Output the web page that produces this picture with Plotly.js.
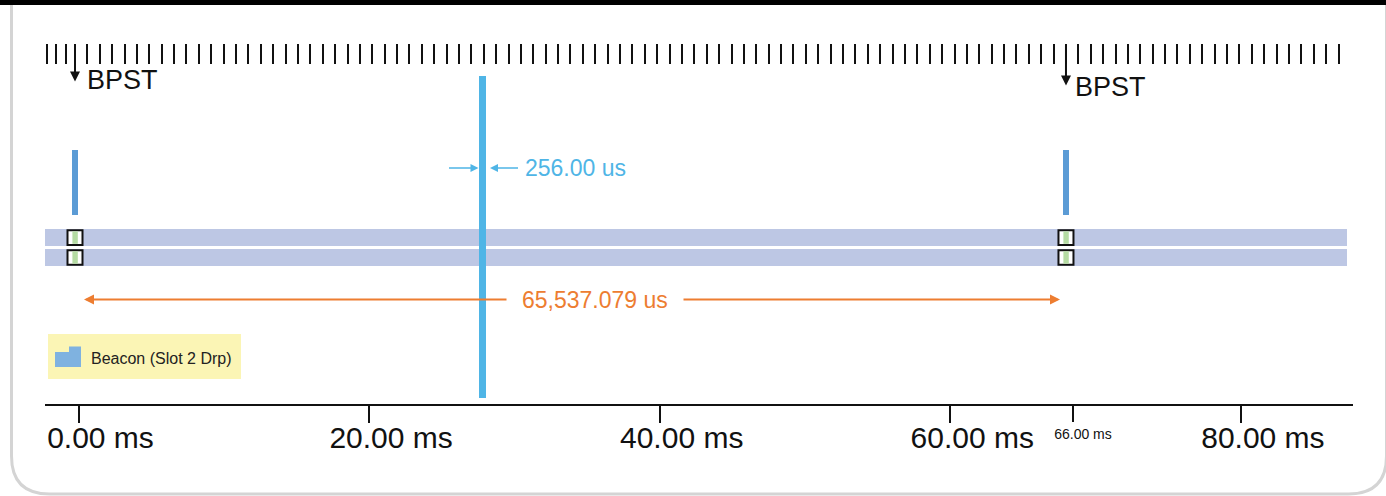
<!DOCTYPE html>
<html>
<head>
<meta charset="utf-8">
<script src="https://cdn.plot.ly/plotly-3.0.1.min.js"></script>
<style>
  html, body { margin: 0; padding: 0; background: #ffffff; }
  #chart { width: 1386px; height: 496px; }
</style>
</head>
<body>
<div id="chart"></div>
<script>
// ---------------- data ----------------
const bpstTimesMs = [0, 65.537];              // beacon period start times (ms)
const bpstLabels = ['BPST', 'BPST'];
const beaconName = 'Beacon (Slot 2 Drp)';
const guardTimesMs = [26.95];                 // guard marker position (ms)
const guardWidthUs = 256.00;                  // guard width (us)
const beaconPeriodUs = 65537.079;             // beacon period (us)
const slotsPerPeriod = 80;                    // ruler divisions between BPSTs
const axisTickValsMs = [0, 20, 40, 60, 80];
const axisTickText = ['0.00 ms', '20.00 ms', '40.00 ms', '60.00 ms', '80.00 ms'];
const markTickValsMs = [66];
const markTickText = ['66.00 ms'];

// ---------------- helpers ----------------
const W = 1386, H = 496;
const X = px => px / W;           // pixel -> paper x
const Y = py => 1 - py / H;       // pixel -> paper y
const FONT = 'Liberation Sans, Arial, sans-serif';

function fmtUs(v, d) {
  const s = v.toFixed(d);
  const parts = s.split('.');
  parts[0] = parts[0].replace(/\B(?=(\d{3})+(?!\d))/g, ',');
  return parts.join('.') + ' us';
}

const C_BEACON = '#5b9bd5';
const C_GUARD = '#4fb5e6';
const C_ORANGE = '#ed7d31';
const C_ROW = '#bdc7e4';
const C_GREEN = '#b5dba3';

// ruler ticks (schematic axis)
const rulerStep = (bpstTimesMs[1] - bpstTimesMs[0]) / slotsPerPeriod;
const rulerTicks = [];
const leadStep = rulerStep * 0.76;
for (let k = 3; k >= 1; k--) rulerTicks.push(bpstTimesMs[0] - k * leadStep);
for (let k = 0; k <= 102; k++) rulerTicks.push(bpstTimesMs[0] + k * rulerStep);

const midPeriod = (bpstTimesMs[0] + bpstTimesMs[1]) / 2;

// ---------------- traces ----------------
const traces = [
  { // beacons
    type: 'bar', xaxis: 'x2', yaxis: 'y',
    x: bpstTimesMs, y: bpstTimesMs.map(() => -65), base: bpstTimesMs.map(() => 215),
    width: bpstTimesMs.map(() => 0.46),
    marker: { color: C_BEACON, line: { width: 0 } },
    name: beaconName, showlegend: false, hoverinfo: 'skip'
  },
  { // guard bar
    type: 'bar', xaxis: 'x2', yaxis: 'y',
    x: guardTimesMs, y: guardTimesMs.map(() => -322), base: guardTimesMs.map(() => 398),
    width: guardTimesMs.map(() => 0.46),
    marker: { color: C_GUARD, line: { width: 0 } },
    showlegend: false, hoverinfo: 'skip'
  },
  { // anchor trace for the main time axis
    type: 'scatter', mode: 'markers', xaxis: 'x', yaxis: 'y',
    x: [axisTickValsMs[0]], y: [-100],
    marker: { size: 1, color: 'rgba(0,0,0,0)' }, showlegend: false, hoverinfo: 'skip'
  },
  { // anchor trace for the ruler axis
    type: 'scatter', mode: 'markers', xaxis: 'x3', yaxis: 'y',
    x: [bpstTimesMs[0]], y: [-100],
    marker: { size: 1, color: 'rgba(0,0,0,0)' }, showlegend: false, hoverinfo: 'skip'
  }
];

// ---------------- shapes ----------------
const frameR = 38, fx0 = 11.5, fx1 = 1386.5, fy1 = 494;
const framePath =
  `M ${X(fx0)},${Y(-20)} L ${X(fx0)},${Y(fy1 - frameR)} ` +
  `Q ${X(fx0)},${Y(fy1)} ${X(fx0 + frameR)},${Y(fy1)} ` +
  `L ${X(fx1 - frameR)},${Y(fy1)} Q ${X(fx1)},${Y(fy1)} ${X(fx1)},${Y(fy1 - frameR)} ` +
  `L ${X(fx1)},${Y(-20)}`;

const shapes = [
  { type: 'path', xref: 'paper', yref: 'paper', path: framePath,
    line: { color: '#d4d4d4', width: 3 }, layer: 'below' },
  { type: 'rect', xref: 'paper', yref: 'paper', x0: 0, x1: 1, y0: Y(5), y1: Y(-5),
    fillcolor: '#000000', line: { width: 0 }, layer: 'below' },
  { type: 'rect', xref: 'paper', yref: 'paper', x0: X(45), x1: X(1347), y0: Y(246), y1: Y(229),
    fillcolor: C_ROW, line: { width: 0 }, layer: 'below' },
  { type: 'rect', xref: 'paper', yref: 'paper', x0: X(45), x1: X(1347), y0: Y(266), y1: Y(249),
    fillcolor: C_ROW, line: { width: 0 }, layer: 'below' },
  // legend box
  { type: 'rect', xref: 'paper', yref: 'paper', x0: X(48), x1: X(241), y0: Y(379), y1: Y(334),
    fillcolor: '#fbf5b5', line: { width: 0 }, layer: 'below' },
  { type: 'path', xref: 'paper', yref: 'paper',
    path: `M ${X(55)},${Y(367)} L ${X(55)},${Y(352)} L ${X(69)},${Y(352)} L ${X(69)},${Y(346.5)} L ${X(81)},${Y(346.5)} L ${X(81)},${Y(367)} Z`,
    fillcolor: '#7fb2e0', line: { width: 0 }, layer: 'above' }
];

// slot boxes on both rows at each BPST
const rowCenters = [237.6, 257.5];
bpstTimesMs.forEach(t => {
  rowCenters.forEach(yc => {
    shapes.push({
      type: 'rect', xref: 'x2', yref: 'y', xsizemode: 'pixel', xanchor: t,
      x0: -7.5, x1: 7.5, y0: yc - 7.3, y1: yc + 7.3,
      fillcolor: '#ffffff', line: { color: '#111111', width: 2 }, layer: 'above'
    });
    shapes.push({
      type: 'rect', xref: 'x2', yref: 'y', xsizemode: 'pixel', xanchor: t,
      x0: -2.6, x1: 2.8, y0: yc - 6.2, y1: yc + 6.2,
      fillcolor: C_GREEN, line: { width: 0 }, layer: 'above'
    });
  });
});

// ---------------- annotations ----------------
const annotations = [];
const arrowTipY = [81.5, 85.5];
const bpstTextY = [80, 87];
const bpstTextShift = [10, 7];
bpstTimesMs.forEach((t, i) => {
  annotations.push({
    x: t, y: arrowTipY[i], xref: 'x2', yref: 'y', ax: t, ay: 44, axref: 'x2', ayref: 'y',
    text: '', showarrow: true, arrowhead: 2, arrowsize: 1, arrowwidth: 2, arrowcolor: '#111111'
  });
  annotations.push({
    x: t, y: bpstTextY[i], xref: 'x2', yref: 'y', xanchor: 'left', yanchor: 'middle',
    xshift: bpstTextShift[i], text: bpstLabels[i], showarrow: false,
    font: { family: FONT, size: 27, color: '#111111' }
  });
});
// guard width dimension
guardTimesMs.forEach(g => {
  annotations.push({
    x: g, y: 168, xref: 'x2', yref: 'y', ax: -35, ay: 0, text: '', showarrow: true,
    arrowhead: 2, arrowsize: 1, arrowwidth: 1.6, arrowcolor: C_GUARD, standoff: 4
  });
  annotations.push({
    x: g, y: 168, xref: 'x2', yref: 'y', ax: 37, ay: 0, text: '', showarrow: true,
    arrowhead: 2, arrowsize: 1, arrowwidth: 1.6, arrowcolor: C_GUARD, standoff: 7.5
  });
  annotations.push({
    x: g, y: 168, xref: 'x2', yref: 'y', xanchor: 'left', yanchor: 'middle', xshift: 40,
    text: fmtUs(guardWidthUs, 2), showarrow: false,
    font: { family: FONT, size: 23, color: C_GUARD }
  });
});
// beacon period dimension
annotations.push({
  x: bpstTimesMs[0], y: 299.5, xref: 'x2', yref: 'y', ax: midPeriod, ay: 299.5, axref: 'x2', ayref: 'y',
  text: '', showarrow: true, arrowhead: 2, arrowsize: 1, arrowwidth: 2, arrowcolor: C_ORANGE, standoff: 9
});
annotations.push({
  x: bpstTimesMs[1], y: 299.5, xref: 'x2', yref: 'y', ax: midPeriod, ay: 299.5, axref: 'x2', ayref: 'y',
  text: '', showarrow: true, arrowhead: 2, arrowsize: 1, arrowwidth: 2, arrowcolor: C_ORANGE, standoff: 6
});
annotations.push({
  x: midPeriod, y: 299.5, xref: 'x2', yref: 'y', xshift: 25, xanchor: 'center', yanchor: 'middle',
  text: fmtUs(beaconPeriodUs, 3), showarrow: false, bgcolor: '#ffffff', borderpad: 15,
  font: { family: FONT, size: 23, color: C_ORANGE }
});
// legend text
annotations.push({
  x: X(89), y: Y(358), xref: 'paper', yref: 'paper', xanchor: 'left', yanchor: 'middle',
  text: beaconName, showarrow: false, font: { family: FONT, size: 16, color: '#222222' }
});

// ---------------- layout ----------------
const domainX = [45 / W, 1353 / W];
const mainRange = [(45 - 78.5) / 14.53, (1353 - 78.5) / 14.53];
const schemRange = [(45 - 75) / 15.121, (1353 - 75) / 15.121];

const layout = {
  width: W, height: H,
  margin: { l: 0, r: 0, t: 0, b: 0, pad: 0 },
  paper_bgcolor: '#ffffff', plot_bgcolor: 'rgba(0,0,0,0)',
  showlegend: false, bargap: 0, barmode: 'overlay',
  font: { family: FONT, color: '#111111' },
  xaxis: {
    domain: domainX, range: mainRange, anchor: 'free', position: Y(405),
    showgrid: false, zeroline: false, showline: true, linecolor: '#111111', linewidth: 2,
    ticks: 'outside', ticklen: 17, tickwidth: 2, tickcolor: '#111111',
    tickmode: 'array', tickvals: axisTickValsMs, ticktext: axisTickText,
    tickfont: { family: FONT, size: 30, color: '#111111' },
    ticklabelshift: 22, ticklabelstandoff: -11, fixedrange: true
  },
  xaxis2: {
    domain: domainX, range: schemRange, overlaying: 'x', anchor: 'free', position: Y(405),
    showgrid: false, zeroline: false, showline: false,
    ticks: 'outside', ticklen: 16, tickwidth: 2, tickcolor: '#111111',
    tickmode: 'array', tickvals: markTickValsMs, ticktext: markTickText,
    tickfont: { family: FONT, size: 14, color: '#111111' },
    ticklabelshift: 10, fixedrange: true
  },
  xaxis3: {
    domain: domainX, range: schemRange, overlaying: 'x', anchor: 'free', position: Y(63.5),
    side: 'top', showgrid: false, zeroline: false, showline: false,
    ticks: 'outside', ticklen: 20, tickwidth: 2, tickcolor: '#111111',
    tickmode: 'array', tickvals: rulerTicks, showticklabels: false, fixedrange: true
  },
  yaxis: {
    domain: [0, 1], range: [H, 0], visible: false, showgrid: false, zeroline: false, fixedrange: true
  },
  shapes: shapes,
  annotations: annotations
};

Plotly.newPlot('chart', traces, layout, { displayModeBar: false, staticPlot: true });
</script>
</body>
</html>
